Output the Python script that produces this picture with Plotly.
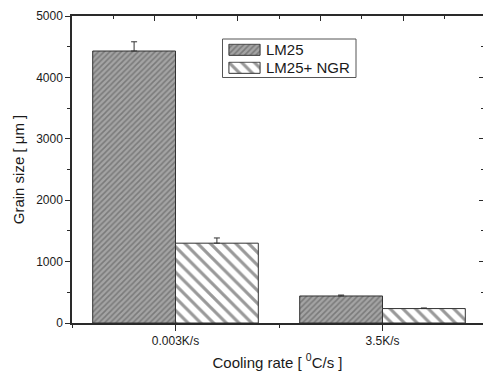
import plotly.graph_objects as go

categories = ["0.003K/s", "3.5K/s"]
series_names = ["LM25", "LM25+ NGR"]
lm25 = [4430, 440]
lm25_err = [150, 15]
ngr = [1300, 235]
ngr_err = [85, 10]

W, H = 483, 375
ML, MT, MB, MR = 72, 16, 52, 0
PW, PH = W - ML - MR, H - MT - MB
px_per_unit = 207.0
xmin = 0.5
xmax = xmin + PW / px_per_unit
xpos = [i + 1 for i in range(len(categories))]

font = "Liberation Sans, Arial, sans-serif"
txtcol = "#1a1a1a"
axcol = "#2a2a2a"


def fx(px):
    return (px - ML) / PW


def fy(py):
    return 1 - (py - MT) / PH


styles = [
    dict(color="#9c9c9c", line=dict(color="#333333", width=1),
         pattern=dict(shape="/", size=4, solidity=0.38,
                      fgcolor="#4f4f4f", bgcolor="#a4a4a4")),
    dict(color="white", line=dict(color="#333333", width=1),
         pattern=dict(shape="\\", size=9, solidity=0.35,
                      fgcolor="#333333", bgcolor="white")),
]

fig = go.Figure()
for name, vals, errs, st in zip(series_names, [lm25, ngr], [lm25_err, ngr_err], styles):
    fig.add_trace(go.Bar(
        x=xpos, y=vals, name=name, marker=st, showlegend=False,
        error_y=dict(type="data", array=errs, arrayminus=[0] * len(errs),
                     symmetric=False, color="#333333", thickness=1, width=3),
    ))

# mirrored axes holder
fig.add_trace(go.Scatter(x=[xmin], y=[0], xaxis="x2", yaxis="y2",
                         mode="markers", marker=dict(opacity=0),
                         showlegend=False, hoverinfo="skip"))

# custom legend (swatches on small hidden axes)
sw_x = (228, 261)
sw_rows = [(43.5, 56), (61.5, 74)]
text_rows = [49.5, 67.5]
annotations = []
for i, (name, st) in enumerate(zip(series_names, styles)):
    n = i + 3
    fig.add_trace(go.Bar(x=[0], y=[1], width=[1], marker=st,
                         xaxis=f"x{n}", yaxis=f"y{n}",
                         showlegend=False, hoverinfo="skip"))
    fig.layout[f"xaxis{n}"] = dict(domain=[fx(sw_x[0]), fx(sw_x[1])],
                                   range=[-0.53, 0.53], visible=False,
                                   anchor=f"y{n}", fixedrange=True)
    fig.layout[f"yaxis{n}"] = dict(domain=[fy(sw_rows[i][1]), fy(sw_rows[i][0])],
                                   range=[-0.06, 1.06], visible=False,
                                   anchor=f"x{n}", fixedrange=True)
    annotations.append(dict(x=fx(264), y=fy(text_rows[i]), xref="paper", yref="paper",
                            text=name, showarrow=False, xanchor="left",
                            yanchor="middle",
                            font=dict(size=15, color=txtcol, family=font)))

fig.update_layout(
    width=W, height=H,
    margin=dict(l=ML, r=MR, t=MT, b=MB),
    paper_bgcolor="white", plot_bgcolor="white",
    barmode="group", bargap=0.2, bargroupgap=0,
    showlegend=False,
    font=dict(family=font, size=12, color=txtcol),
    annotations=annotations,
    shapes=[dict(type="rect", xref="paper", yref="paper",
                 x0=fx(222.5), x1=fx(356), y0=fy(77.5), y1=fy(39),
                 line=dict(color="#555555", width=1), fillcolor="rgba(0,0,0,0)",
                 layer="above")],
    xaxis=dict(range=[xmin, xmax], tickvals=xpos, ticktext=categories,
               showgrid=False, zeroline=False, showline=True,
               linecolor=axcol, linewidth=1.5,
               ticks="outside", ticklen=6, tickwidth=1.2, tickcolor=axcol,
               minor=dict(dtick=0.5, tick0=0.5, ticks="outside", ticklen=3,
                          tickcolor=axcol, showgrid=False),
               tickfont=dict(size=12, color=txtcol),
               title=dict(text="Cooling rate [ <sup>0</sup>C/s ]",
                          font=dict(size=15, color=txtcol), standoff=10)),
    yaxis=dict(range=[0, 5000], dtick=1000, showgrid=False, zeroline=False,
               showline=True, linecolor=axcol, linewidth=1.5,
               ticks="outside", ticklen=5, tickwidth=1.2, tickcolor=axcol,
               minor=dict(dtick=500, ticks="outside", ticklen=3,
                          tickcolor=axcol, showgrid=False),
               tickfont=dict(size=12, color=txtcol),
               title=dict(text="Grain size [ μm ]",
                          font=dict(size=15, color=txtcol), standoff=8)),
    xaxis2=dict(overlaying="x", side="top", range=[xmin, xmax],
                tick0=0.9, dtick=0.4, showticklabels=False,
                showgrid=False, zeroline=False, showline=True,
                linecolor=axcol, linewidth=1.5,
                ticks="inside", ticklen=5, tickwidth=1.2, tickcolor=axcol,
                minor=dict(tick0=0.7, dtick=0.2, ticks="inside", ticklen=3,
                           tickcolor=axcol, showgrid=False)),
    yaxis2=dict(overlaying="y", side="right", range=[0, 5000], dtick=1000,
                showticklabels=False, showgrid=False, zeroline=False,
                showline=True, linecolor=axcol, linewidth=1.5,
                ticks="inside", ticklen=4, tickwidth=1.2, tickcolor=axcol,
                minor=dict(dtick=500, ticks="inside", ticklen=2,
                           tickcolor=axcol, showgrid=False)),
)

fig.write_html("out.html")
